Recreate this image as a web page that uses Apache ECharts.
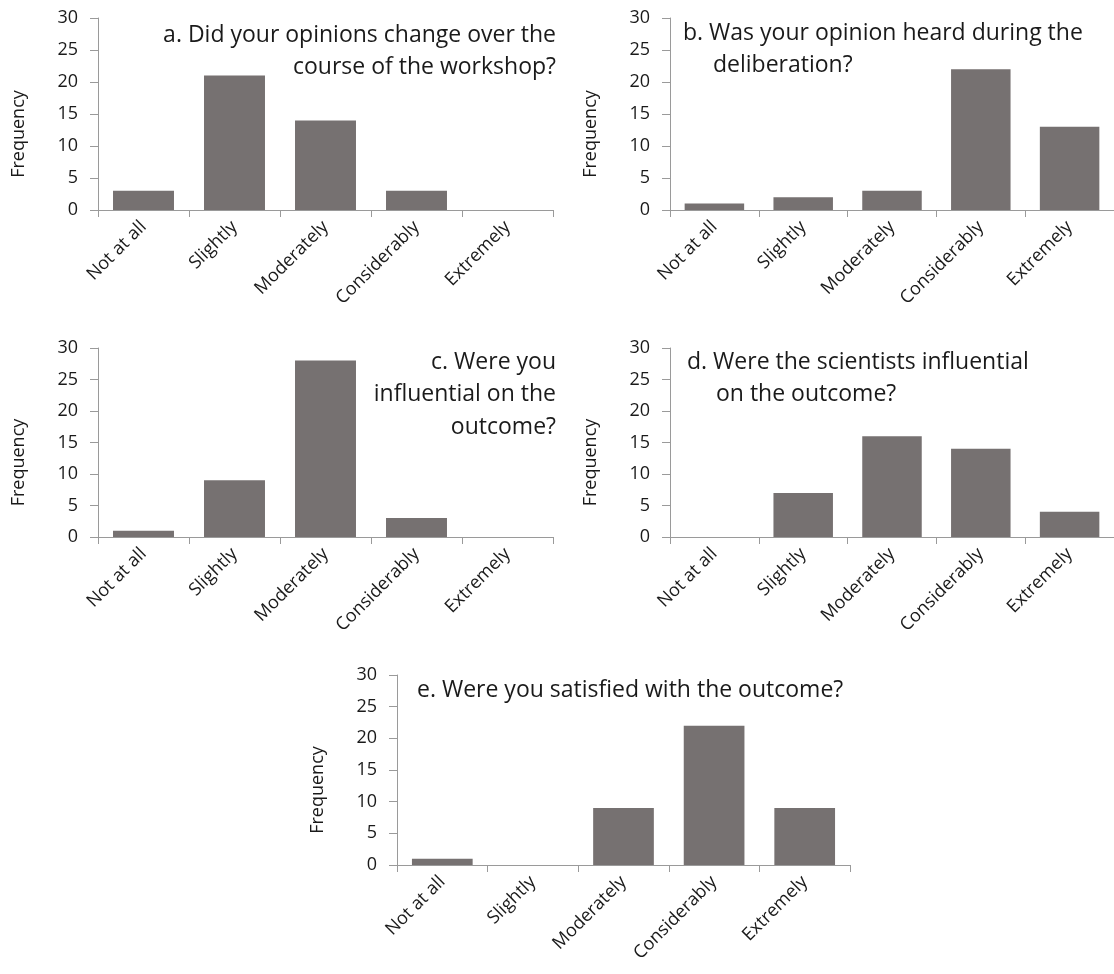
<!DOCTYPE html>
<html>
<head>
<meta charset="utf-8">
<script src="https://cdn.jsdelivr.net/npm/echarts@6/dist/echarts.min.js"></script>
<style>
  html, body { margin: 0; padding: 0; background: #fff; }
  #chart { width: 1114px; height: 974px; }
</style>
</head>
<body>
<div id="chart"></div>
<script>
// Response categories shared by all five survey questions
const categories = ['Not at all', 'Slightly', 'Moderately', 'Considerably', 'Extremely'];

// Frequencies per question
const valuesA = [3, 21, 14, 3, 0];
const valuesB = [1, 2, 3, 22, 13];
const valuesC = [1, 9, 28, 3, 0];
const valuesD = [0, 7, 16, 14, 4];
const valuesE = [1, 0, 9, 22, 9];

// Frequency axis range and step
const yMin = 0;
const yMax = 30;
const yStep = 5;

// Question titles, one entry per line
const titleA = ['a. Did your opinions change over the', 'course of the workshop?'];
const titleB = ['b. Was your opinion heard during the', 'deliberation?'];
const titleC = ['c. Were you', 'influential on the', 'outcome?'];
const titleD = ['d. Were the scientists influential', 'on the outcome?'];
const titleE = ['e. Were you satisfied with the outcome?'];

const FONT = '"Open Sans", "Noto Sans", sans-serif';
const TEXT = '#1a1a1a';
const AXIS = '#9a9a9a';
const BAR = '#767171';

// Panel layout: plot rectangle for each question
const panels = [
  { values: valuesA, grid: { left: 98, top: 18, width: 455, height: 192 } },
  { values: valuesB, grid: { left: 670, top: 18, width: 455, height: 192 } },
  { values: valuesC, grid: { left: 98, top: 348, width: 455, height: 189 } },
  { values: valuesD, grid: { left: 670, top: 348, width: 455, height: 189 } },
  { values: valuesE, grid: { left: 397, top: 675, width: 453, height: 190 } }
];

const grids = [], xAxes = [], yAxes = [], series = [];
panels.forEach((p, i) => {
  grids.push(Object.assign({ containLabel: false }, p.grid));
  xAxes.push({
    type: 'category',
    gridIndex: i,
    data: categories,
    boundaryGap: true,
    axisLine: { show: true, lineStyle: { color: AXIS, width: 1 } },
    axisTick: { show: true, alignWithLabel: false, length: 7, lineStyle: { color: AXIS } },
    axisLabel: {
      rotate: 45,
      interval: 0,
      margin: 14,
      color: TEXT,
      fontFamily: FONT,
      fontSize: 18
    },
    splitLine: { show: false }
  });
  yAxes.push({
    type: 'value',
    gridIndex: i,
    min: yMin,
    max: yMax,
    interval: yStep,
    name: 'Frequency',
    nameLocation: 'middle',
    nameRotate: 90,
    nameGap: 70,
    // the axis title sits a little below the middle of the axis
    nameTextStyle: { color: TEXT, fontFamily: FONT, fontSize: 18, padding: [0, 40, 0, 0] },
    axisLine: { show: true, lineStyle: { color: AXIS, width: 1 } },
    axisTick: { show: true, length: 8, lineStyle: { color: AXIS } },
    axisLabel: { color: TEXT, fontFamily: FONT, fontSize: 18, margin: 20 },
    splitLine: { show: false }
  });
  series.push({
    type: 'bar',
    xAxisIndex: i,
    yAxisIndex: i,
    data: p.values,
    barCategoryGap: '33%',
    itemStyle: { color: BAR },
    silent: true,
    animation: false
  });
});

// Title text blocks
function titleLines(lines, x, y, align, indents) {
  return lines.map((t, k) => ({
    type: 'text',
    x: x + (indents ? indents[k] : 0),
    y: y + k * 32.5,
    style: {
      text: t,
      textAlign: align,
      textVerticalAlign: 'middle',
      fill: TEXT,
      font: '23px ' + FONT
    }
  }));
}

const graphics = [].concat(
  titleLines(titleA, 556, 35, 'right'),
  titleLines(titleB, 683, 33, 'left', [0, 30]),
  titleLines(titleC, 556, 362, 'right'),
  titleLines(titleD, 687, 362, 'left', [0, 29]),
  titleLines(titleE, 417, 690, 'left')
);

const chart = echarts.init(document.getElementById('chart'), null, { renderer: 'canvas' });
chart.setOption({
  backgroundColor: '#ffffff',
  animation: false,
  grid: grids,
  xAxis: xAxes,
  yAxis: yAxes,
  series: series,
  graphic: graphics
});
</script>
</body>
</html>
